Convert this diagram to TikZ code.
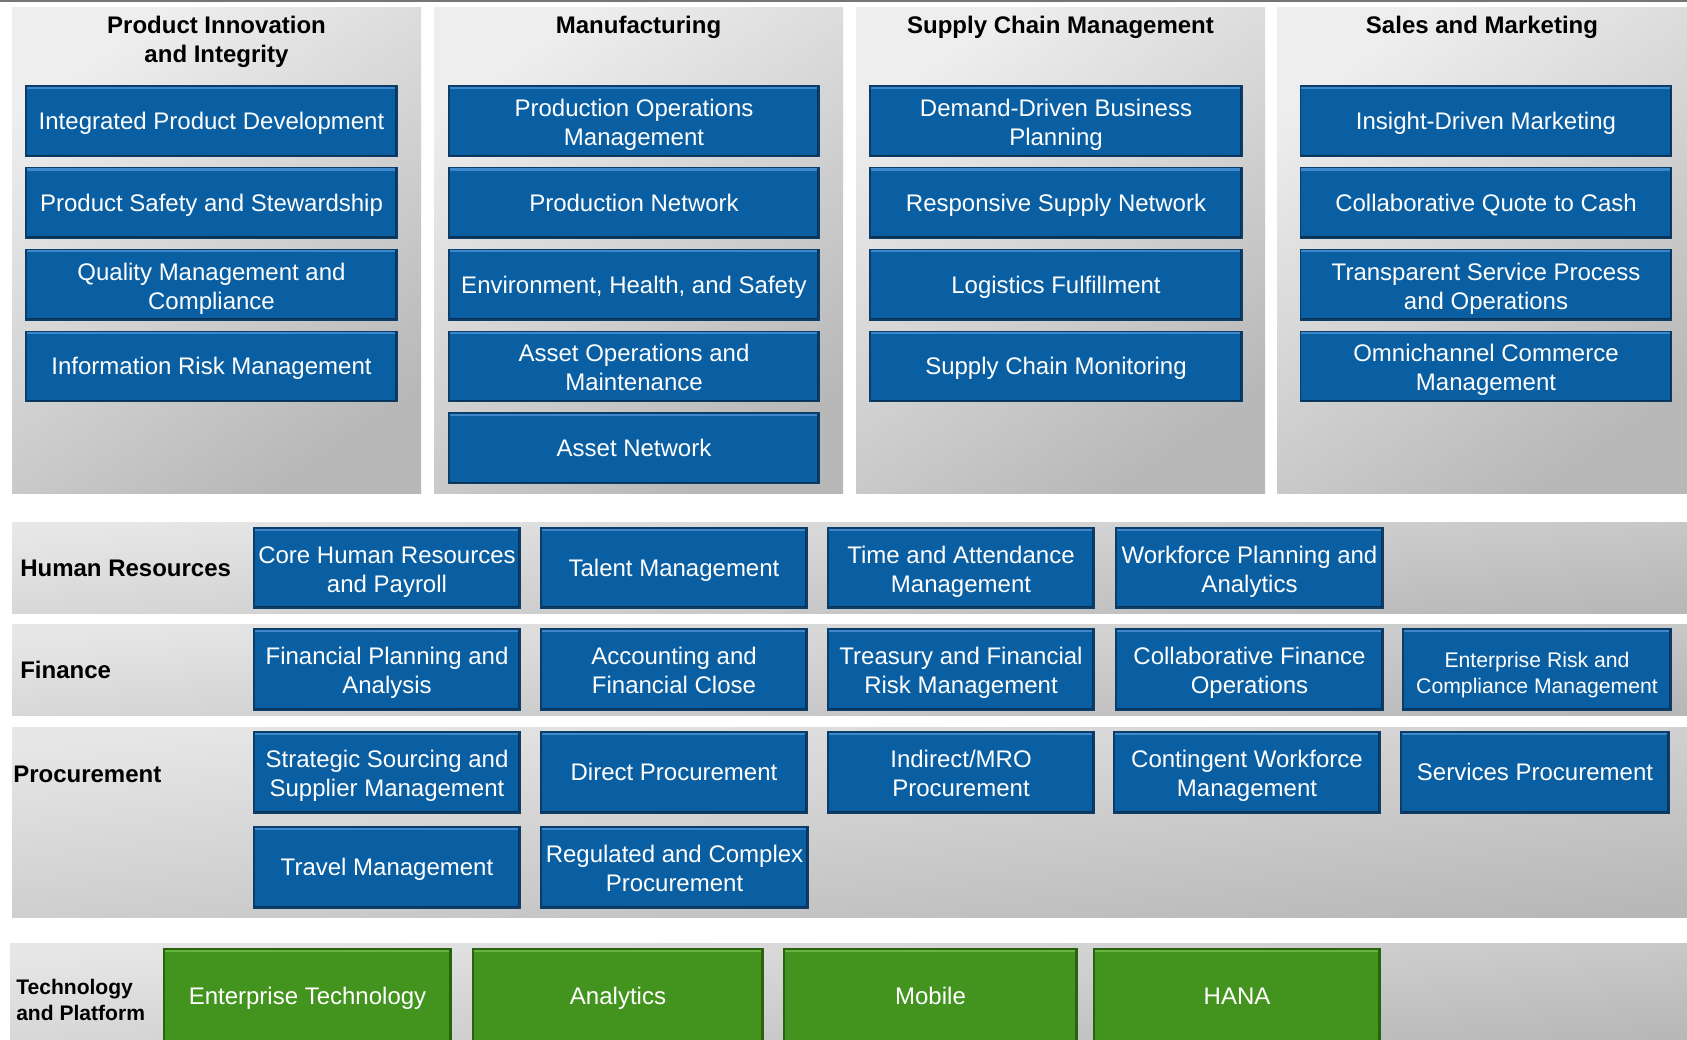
\documentclass[tikz,border=0pt]{standalone}
\usepackage{fontspec}
\setmainfont{Liberation Sans}
\newcommand\bs{\rule[-0.212em]{0pt}{1.117em}}
\newcommand\fl[1][18.5pt]{\rule{0pt}{#1}}
\definecolor{bfill}{HTML}{0A5FA3}
\definecolor{bdark}{HTML}{0B3D68}
\definecolor{bhi}{HTML}{3C88CA}
\definecolor{gfill}{HTML}{43941E}
\definecolor{gdark}{HTML}{2A6310}
\definecolor{ghi}{HTML}{66B53C}
\definecolor{plight}{HTML}{EEEEEE}
\definecolor{pdark}{HTML}{B8B8B8}
\definecolor{lineg}{HTML}{757575}
\tikzset{
  wh/.style 2 args={minimum width=#1*0.75pt, minimum height=#2*0.75pt},
  boxbase/.style={inner sep=0pt, outer sep=0pt, align=center, text=white,
    font=\fontsize{18}{21.75}\selectfont,
    execute at begin node=\bs, execute at end node=\bs},
  bbox/.style={boxbase, draw=bdark, line width=0.9pt, fill=bfill,
    path picture={
      \draw[bhi, line width=1.6pt] ([yshift=-1.3pt]path picture bounding box.north west) -- ([yshift=-1.3pt]path picture bounding box.north east);
      \draw[bdark!80!black, line width=1pt] ([yshift=1pt]path picture bounding box.south west) -- ([yshift=1pt]path picture bounding box.south east);
      \draw[bdark!80!black, line width=1pt] ([xshift=-1pt]path picture bounding box.south east) -- ([xshift=-1pt]path picture bounding box.north east);}},
  gbox/.style={boxbase, draw=gdark, line width=0.9pt, fill=gfill,
    path picture={
      \draw[ghi, line width=1.6pt] ([yshift=-1.3pt]path picture bounding box.north west) -- ([yshift=-1.3pt]path picture bounding box.north east);
      \draw[gdark, line width=1pt] ([xshift=-1pt]path picture bounding box.south east) -- ([xshift=-1pt]path picture bounding box.north east);}},
  panel/.style={inner sep=0pt, outer sep=0pt, top color=plight, bottom color=pdark, shading angle=35},
  band/.style={inner sep=0pt, outer sep=0pt, top color=plight!97!black, bottom color=pdark, shading angle=6},
  head/.style={align=center, inner sep=0pt, font=\bfseries\fontsize{18}{21.75}\selectfont,
    execute at begin node=\bs, execute at end node=\bs},
  rowlab/.style={anchor=west, inner sep=0pt, font=\bfseries\fontsize{18}{21.75}\selectfont,
    execute at begin node=\bs, execute at end node=\bs},
  topline/.style={draw=lineg, line width=1.1pt}
}
\begin{document}
\begin{tikzpicture}[x=0.75pt, y=-0.75pt]
\useasboundingbox (0,0) rectangle (1687,1039);
\clip (0,0) rectangle (1687,1039);
\fill[white] (0,0) rectangle (1687,1039);
\coordinate (tl) at (0,1);
\coordinate (tr) at (1687,1);
\draw[topline] (tl) -- (tr);

% column panels
\node[panel, wh={409}{486}] (p1) at (216.5,250) {};
\node[panel, wh={409}{486}] (p2) at (638.5,250) {};
\node[panel, wh={409}{486}] (p3) at (1060.5,250) {};
\node[panel, wh={412}{486}] (p4) at (1483,250) {};

\node[head] (h1) at (216.5,42) {Product Innovation\\and Integrity};
\node[head] (h2) at (638.5,25.5) {Manufacturing};
\node[head] (h3) at (1060.5,25.5) {Supply Chain Management};
\node[head] (h4) at (1482,25.5) {Sales and Marketing};

% panel 1
\node[bbox, wh={371}{70.5}] (a1) at (211.5,121.25) {Integrated Product Development};
\node[bbox, wh={371}{70.5}] (a2) at (211.5,203) {Product Safety and Stewardship};
\node[bbox, wh={371}{70.5}] (a3) at (211.5,284.75) {\fl Quality Management and\\Compliance};
\node[bbox, wh={371}{70.5}] (a4) at (211.5,366.5) {Information Risk Management};
% panel 2
\node[bbox, wh={370}{70.5}] (b1) at (634,121.25) {\fl Production Operations\\Management};
\node[bbox, wh={370}{70.5}] (b2) at (634,203) {Production Network};
\node[bbox, wh={370}{70.5}] (b3) at (634,284.75) {Environment, Health, and Safety};
\node[bbox, wh={370}{70.5}] (b4) at (634,366.5) {\fl Asset Operations and\\Maintenance};
\node[bbox, wh={370}{70.5}] (b5) at (634,448.25) {Asset Network};
% panel 3
\node[bbox, wh={372}{70.5}] (c1) at (1056,121.25) {\fl Demand-Driven Business\\Planning};
\node[bbox, wh={372}{70.5}] (c2) at (1056,203) {Responsive Supply Network};
\node[bbox, wh={372}{70.5}] (c3) at (1056,284.75) {Logistics Fulfillment};
\node[bbox, wh={372}{70.5}] (c4) at (1056,366.5) {Supply Chain Monitoring};
% panel 4
\node[bbox, wh={371}{70.5}] (d1) at (1486,121.25) {Insight-Driven Marketing};
\node[bbox, wh={371}{70.5}] (d2) at (1486,203) {Collaborative Quote to Cash};
\node[bbox, wh={371}{70.5}] (d3) at (1486,284.75) {\fl Transparent Service Process\\and Operations};
\node[bbox, wh={371}{70.5}] (d4) at (1486,366.5) {\fl Omnichannel Commerce\\Management};

% bands
\node[band, wh={1680}{90.5}] (hrband) at (852,568) {};
\node[band, wh={1680}{91.5}] (finband) at (852,670) {};
\node[band, wh={1680}{190}] (procband) at (852,822) {};
\node[band, wh={1682}{100}] (techband) at (851,993) {};

\node[rowlab] (hrl) at (20,568) {Human Resources};
\node[rowlab] (finl) at (20,670) {Finance};
\node[rowlab] (procl) at (13,774) {Procurement};
\node[rowlab, align=left, font=\bfseries\fontsize{15.8}{19.4}\selectfont] (techl) at (16,1002) {Technology\\and Platform};

% HR
\node[bbox, wh={266}{80}] (hr1) at (387,568) {\fl Core Human Resources\\and Payroll};
\node[bbox, wh={266}{80}] (hr2) at (674,568) {Talent Management};
\node[bbox, wh={266}{80}] (hr3) at (961,568) {\fl Time and Attendance\\Management};
\node[bbox, wh={267}{80}] (hr4) at (1249.5,568) {\fl Workforce Planning and\\Analytics};
% Finance
\node[bbox, wh={266}{81}] (f1) at (387,669.5) {\fl Financial Planning and\\Analysis};
\node[bbox, wh={266}{81}] (f2) at (674,669.5) {\fl Accounting and\\Financial Close};
\node[bbox, wh={266}{81}] (f3) at (961,669.5) {\fl Treasury and Financial\\Risk Management};
\node[bbox, wh={267}{81}] (f4) at (1249.5,669.5) {\fl Collaborative Finance\\Operations};
\node[bbox, wh={268}{81}, font=\fontsize{15.9}{19.5}\selectfont] (f5) at (1537,669.5) {\fl[19.6pt]Enterprise Risk and\\Compliance Management};
% Procurement
\node[bbox, wh={266}{81}] (pr1) at (387,772.5) {\fl Strategic Sourcing and\\Supplier Management};
\node[bbox, wh={266}{81}] (pr2) at (674,772.5) {Direct Procurement};
\node[bbox, wh={266}{81}] (pr3) at (961,772.5) {\fl Indirect/MRO\\Procurement};
\node[bbox, wh={266}{81}] (pr4) at (1247,772.5) {\fl Contingent Workforce\\Management};
\node[bbox, wh={268}{81}] (pr5) at (1535,772.5) {Services Procurement};
\node[bbox, wh={266}{81}] (pr6) at (387,867.5) {Travel Management};
\node[bbox, wh={267}{81}] (pr7) at (674.5,867.5) {\fl Regulated and Complex\\Procurement};

% Technology
\node[gbox, wh={287}{94}] (t1) at (307.5,996) {Enterprise Technology};
\node[gbox, wh={290}{94}] (t2) at (618,996) {Analytics};
\node[gbox, wh={293}{94}] (t3) at (930.5,996) {Mobile};
\node[gbox, wh={286}{94}] (t4) at (1237,996) {HANA};
\end{tikzpicture}
\end{document}
